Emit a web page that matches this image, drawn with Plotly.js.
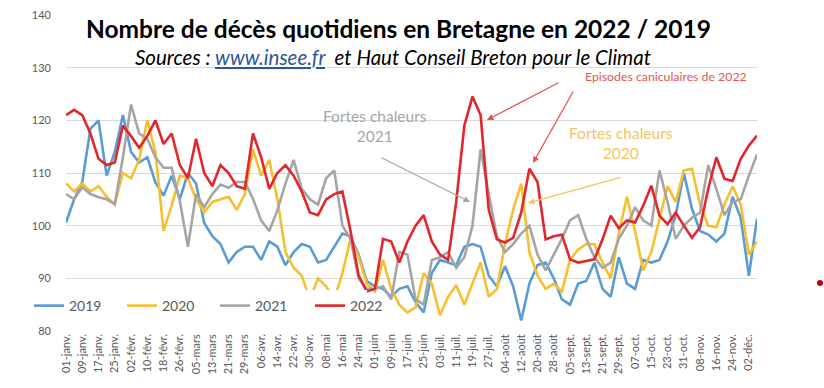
<!DOCTYPE html>
<html>
<head>
<meta charset="utf-8">
<script src="https://cdn.plot.ly/plotly-3.0.1.min.js"></script>
<style>html,body{margin:0;padding:0;background:#fff;}#chart{width:824px;height:388px;}</style>
</head>
<body>
<div id="chart"></div>
<script>
// day index (days since 1 Jan), sampled every 4 days
const days = [0,4,8,12,16,20,24,28,32,36,40,44,48,52,56,60,64,68,72,76,80,84,88,92,96,100,104,108,112,116,120,124,128,132,136,140,144,148,152,156,160,164,168,172,176,180,184,188,192,196,200,204,208,212,216,220,224,228,232,236,240,244,248,252,256,260,264,268,272,276,280,284,288,292,296,300,304,308,312,316,320,324,328,332,336,340];

const y2019 = [100.6,105,108.3,118.4,120,109.5,114,121,114,112,113,108.2,105.7,109.5,105,110,108,100.5,98,96.5,93,95,96,96,93.5,97,96,92.5,95,96.5,96,93,93.5,96,98.5,98,94.5,89.5,88.5,88,86.5,88,88.5,85.5,83.5,91,93.5,93,92.5,96,96.5,96,90.5,88.5,92.3,88.5,82,89,92.5,93,90,86,85,89,89.5,93,88,86.5,94,89,88,93.5,93,93.5,97,102,110,103.2,99,98.3,97,98.5,105.5,101.5,90.5,101.3];

const y2020 = [108,106.5,108,106.5,107.5,105.5,104,110,109,112.5,120,114,99,103.8,109.5,109,105,102.5,104.5,105,105.5,103,106,114.5,109.5,112.5,105,95,92,90.5,86,90,88.5,86,91,97.5,94,89,87.5,93.5,88,85,83.5,84.5,91,89,83,86.5,88.7,85,89,93,86.5,88,96.5,103,108,95,90.5,88,89,87.5,93.5,95.5,96.5,96.5,93,90,98.5,105.5,99,91.5,95,101,107.5,104.5,110.5,110.8,104,100,99.7,104,107.5,104,94.5,97];

const y2021 = [106,105,107.3,106,105.4,105,104.1,113,123,117.5,116.5,113,111,111,104.7,96,106,103.5,106,107.8,107.2,108.3,108.3,105.1,101,99,102.9,108,112.5,107,105,104,109,110.5,100,97.5,90,88,88,88.5,86,95,94.5,86,85,93.5,94,95,92,94,100,114.5,106,98,95,96.5,98.5,100,94.5,91.5,94.5,97.5,101,102,97.5,94,92,93,97.5,100,103.5,101,100,110.5,104.5,97.5,100,101.5,102.5,111.5,107,102,104.5,105,109.5,113.5];

const y2022 = [121,122,121,117.5,112.7,111.5,112,119,117,114.8,117,120,115.5,117.5,111.5,109,116.5,110,107.5,111.5,110,107.5,107,117.5,113,107,110,111.5,109.5,106.5,102.5,102,105,106,106.5,99,90.5,87.5,88,97.5,97,93,97,100,102,97,94.5,93.5,104.5,119,124.5,121,103,97.4,96.8,97.7,102.5,110.8,108.3,97.4,98,98.3,93.6,93,93.3,93.6,97.4,101.9,99.5,101,100.6,103.8,107.6,101.9,100.3,102.5,100,97.7,99.7,107,113,108.9,108.5,112.7,115.2,117.1];

const seriesNames = ['2019','2020','2021','2022'];
const seriesColors = ['#5b9bd5','#f7bf2f','#a5a5a5','#e3262b'];

const tickDays = [0,8,16,24,32,40,48,56,64,72,80,88,96,104,112,120,128,136,144,152,160,168,176,184,192,200,208,216,224,232,240,248,256,264,272,280,288,296,304,312,320,328,336];
const tickLabels = ['01-janv.','09-janv.','17-janv.','25-janv.','02-févr.','10-févr.','18-févr.','26-févr.','05-mars','13-mars','21-mars','29-mars','06-avr.','14-avr.','22-avr.','30-avr.','08-mai','16-mai','24-mai','01-juin','09-juin','17-juin','25-juin','03-juil.','11-juil.','19-juil.','27-juil.','04-août','12-août','20-août','28-août','05-sept.','13-sept.','21-sept.','29-sept.','07-oct.','15-oct.','23-oct.','31-oct.','08-nov.','16-nov.','24-nov.','02-déc.'];

const yTicks = [80,90,100,110,120,130,140];

// layout geometry helpers (pixel -> paper)
const ML = 66, MR = 67, MT = 15, MB = 57, W = 824, H = 388;
const PW = W - ML - MR, PH = H - MT - MB;
const px = x => (x - ML) / PW;
const py = y => (H - MB - y) / PH;

const FONT = 'Lato, "Open Sans", sans-serif';

const legendIds = ['legend', 'legend2', 'legend3', 'legend4'];
const legendLeft = [29, 122, 215, 310];

const ys = [y2019, y2020, y2021, y2022];
const traces = seriesNames.map((n, i) => ({
  type: 'scatter', mode: 'lines', name: n,
  x: days, y: ys[i], legend: legendIds[i],
  line: {color: seriesColors[i], width: 2.6},
  hoverinfo: 'skip'
}));

const layout = {
  width: W, height: H,
  margin: {l: ML, r: MR, t: MT, b: MB},
  paper_bgcolor: '#ffffff', plot_bgcolor: '#ffffff',
  font: {family: FONT, color: '#595959', size: 11},
  showlegend: true,
  xaxis: {
    range: [0, 340], showgrid: false, zeroline: false, showline: false,
    tickmode: 'array', tickvals: tickDays, ticktext: tickLabels,
    tickangle: -90, ticks: '', tickfont: {size: 11, color: '#595959'}
  },
  yaxis: {
    range: [80, 140], tickmode: 'array', tickvals: yTicks,
    showgrid: true, gridcolor: '#d9d9d9', gridwidth: 1,
    zeroline: false, showline: false, ticks: '',
    ticklabelstandoff: 14,
    tickfont: {size: 11, color: '#595959'}
  },
  shapes: [
    {type: 'rect', xref: 'paper', yref: 'paper', x0: px(60), x1: px(742), y0: py(24), y1: py(4),
     fillcolor: '#ffffff', line: {width: 0}, layer: 'above'},
    {type: 'rect', xref: 'paper', yref: 'paper', x0: px(28), x1: px(367), y0: py(321), y1: py(290),
     fillcolor: '#ffffff', line: {width: 0}, layer: 'above'},
    {type: 'circle', xref: 'paper', yref: 'paper', x0: px(817), x1: px(823), y0: py(286), y1: py(280),
     fillcolor: '#c00000', line: {width: 0}}
  ],
  annotations: [
    {xref: 'paper', yref: 'paper', x: px(398), y: py(28), text: '<b>Nombre de décès quotidiens en Bretagne en 2022 / 2019</b>',
     showarrow: false, font: {family: FONT, size: 24.5, color: '#000000'}, xanchor: 'center', yanchor: 'middle'},
    {xref: 'paper', yref: 'paper', x: px(393), y: py(57),
     text: '<i>Sources : <span style="color:#2f5597"><u>www.insee.fr</u></span>  et Haut Conseil Breton pour le Climat</i>',
     showarrow: false, font: {family: FONT, size: 20.5, color: '#000000'}, xanchor: 'center', yanchor: 'middle'},
    {xref: 'paper', yref: 'paper', x: px(375), y: py(126), text: 'Fortes chaleurs<br>2021',
     showarrow: false, font: {family: FONT, size: 15.5, color: '#a6a6a6'}, align: 'center', xanchor: 'center', yanchor: 'middle'},
    {xref: 'paper', yref: 'paper', x: px(666), y: py(76), text: 'Episodes caniculaires de 2022',
     showarrow: false, font: {family: FONT, size: 12.3, color: '#e05555'}, xanchor: 'center', yanchor: 'middle'},
    {xref: 'paper', yref: 'paper', x: px(621), y: py(143), text: 'Fortes chaleurs<br>2020',
     showarrow: false, font: {family: FONT, size: 15.5, color: '#f5c45a'}, align: 'center', xanchor: 'center', yanchor: 'middle'},
    // arrows
    {xref: 'paper', yref: 'paper', x: px(470), y: py(202), ax: -90, ay: -45, text: '', showarrow: true,
     arrowhead: 2, arrowsize: 1, arrowwidth: 1.3, arrowcolor: '#a6a6a6'},
    {xref: 'paper', yref: 'paper', x: px(487), y: py(120), ax: 73, ay: -38, text: '', showarrow: true,
     arrowhead: 2, arrowsize: 1, arrowwidth: 1.3, arrowcolor: '#e05555'},
    {xref: 'paper', yref: 'paper', x: px(533), y: py(163), ax: 41, ay: -73, text: '', showarrow: true,
     arrowhead: 2, arrowsize: 1, arrowwidth: 1.3, arrowcolor: '#e05555'},
    {xref: 'paper', yref: 'paper', x: px(528), y: py(203), ax: 94, ay: -26, text: '', showarrow: true,
     arrowhead: 2, arrowsize: 1, arrowwidth: 1.3, arrowcolor: '#f5c45a'}
  ]
};

legendIds.forEach((id, i) => {
  layout[id] = {
    orientation: 'h', x: px(legendLeft[i]), y: py(290), xanchor: 'left', yanchor: 'top',
    bgcolor: 'rgba(255,255,255,0)', borderwidth: 0,
    font: {family: FONT, size: 14, color: '#595959'}, itemwidth: 30
  };
});

Plotly.newPlot('chart', traces, layout, {displayModeBar: false, staticPlot: true});
</script>
</body>
</html>
